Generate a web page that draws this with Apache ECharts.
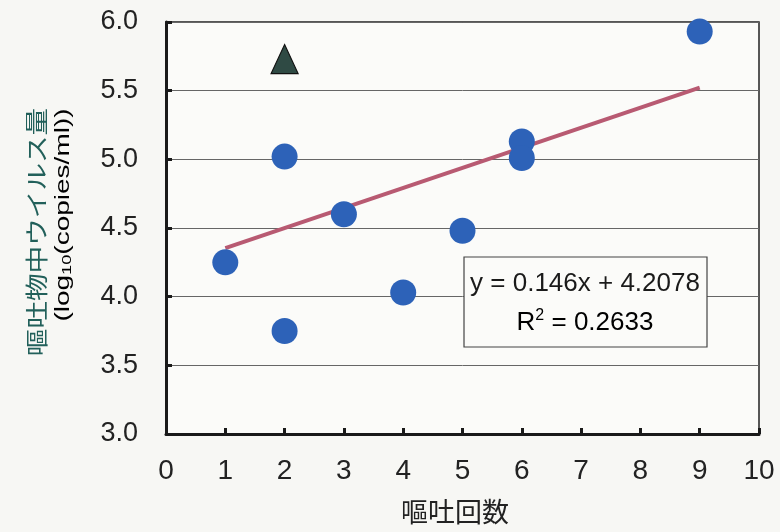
<!DOCTYPE html>
<html><head><meta charset="utf-8">
<script src="https://cdn.jsdelivr.net/npm/echarts@6/dist/echarts.min.js"></script>
<style>html,body{margin:0;padding:0;background:#f7f7f4;}#c{width:780px;height:532px;}</style>
</head><body><div id="c"></div>
<script>
const vomitCounts = [1, 2, 2, 3, 4, 5, 6, 6, 9];
const viralLoads = [4.25, 5.02, 3.75, 4.60, 4.03, 4.48, 5.13, 5.01, 5.93];
const triangleCount = [2];
const triangleLoad = [5.73];
const trendX = [1, 9];
const trendY = [4.354, 5.522];
const xTicks = ['0','1','2','3','4','5','6','7','8','9','10'];
const eqText = 'y = 0.146x + 4.2078';
const r2Value = '0.2633';

const chart = echarts.init(document.getElementById('c'));
const font = 'Liberation Sans, Arial, sans-serif';
chart.setOption({
  backgroundColor: '#f7f7f4',
  animation: false,
  grid: {left: 166, right: 21, top: 22, bottom: 98, show: true, borderColor: '#222', borderWidth: 1.5, backgroundColor: '#fbfbf9'},
  xAxis: {type: 'value', min: 0, max: 10, interval: 1,
    axisLine: {lineStyle: {color: '#1a1a1a', width: 3}},
    axisTick: {inside: true, length: 6, lineStyle: {color: '#1a1a1a', width: 3}},
    splitLine: {show: false},
    axisLabel: {margin: 23, fontSize: 28, color: '#222', fontFamily: font,
      formatter: v => xTicks[Math.round(v)]}},
  yAxis: {type: 'value', min: 3, max: 6, interval: 0.5,
    axisLine: {show: true, lineStyle: {color: '#1a1a1a', width: 3}},
    axisTick: {show: true, inside: true, length: 6, lineStyle: {color: '#1a1a1a', width: 3}},
    splitLine: {lineStyle: {color: '#666', width: 1}},
    axisLabel: {margin: 28, fontSize: 27, color: '#222', fontFamily: font,
      formatter: v => v.toFixed(1)}},
  series: [
    {type: 'line', data: trendX.map((x, i) => [x, trendY[i]]), symbol: 'none',
      lineStyle: {color: '#b85a72', width: 4}, z: 3},
    {type: 'scatter', data: vomitCounts.map((x, i) => [x, viralLoads[i]]), symbol: 'circle', symbolSize: 26,
      itemStyle: {color: '#2d62b8', opacity: 1}, z: 4},
    {type: 'scatter', data: triangleCount.map((x, i) => [x, triangleLoad[i]]), symbol: 'triangle', symbolSize: [27, 29],
      itemStyle: {color: '#2f4a44', borderColor: '#111', borderWidth: 1.2, opacity: 1}, z: 4}
  ],
  graphic: [
    {type: 'rect', shape: {x: 464, y: 257, width: 243, height: 90}, style: {fill: '#fbfbf9', stroke: '#444', lineWidth: 1.2}, z: 10},
    {type: 'text', x: 585, y: 284, z: 11, style: {text: eqText, font: '26px ' + font, fill: '#1a1a1a', align: 'center', verticalAlign: 'middle'}},
    {type: 'text', x: 585, y: 323, z: 11, style: {
      text: '{a|R}{s|2}{a| = ' + r2Value + '}',
      align: 'center', verticalAlign: 'middle',
      rich: {a: {font: '26px ' + font, color: '#1a1a1a'},
             s: {font: '16px ' + font, color: '#1a1a1a', padding: [0, 0, 14, 0]}}}},
    {type: 'text', x: 36, y: 232, rotation: Math.PI / 2, scaleX: 1.2, z: 11, style: {
      text: '嘔吐物中ウイルス量', font: '23px "Noto Sans CJK JP", sans-serif', fill: '#22605a', align: 'center', verticalAlign: 'middle'}},
    {type: 'text', x: 63, y: 215, rotation: Math.PI / 2, scaleX: 1.4, z: 11, style: {
      text: '{a|(log}{s|10}{a|(copies/ml))}', align: 'center', verticalAlign: 'middle',
      rich: {a: {font: '20px ' + font, color: '#222'}, s: {font: '13px ' + font, color: '#222', padding: [8, 0, 0, 0]}}}},
    {type: 'text', x: 455, y: 512, z: 11, style: {
      text: '嘔吐回数', font: '27px "Noto Sans CJK JP", sans-serif', fill: '#222', align: 'center', verticalAlign: 'middle'}}
  ]
});
</script></body></html>
